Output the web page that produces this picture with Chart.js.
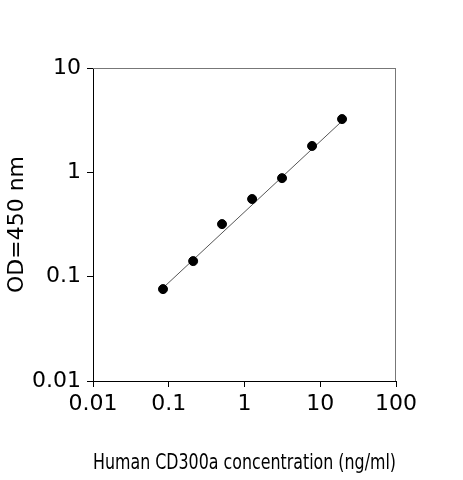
<!DOCTYPE html>
<html><head><meta charset="utf-8">
<script src="https://cdn.jsdelivr.net/npm/chart.js@4"></script>
<style>html,body{margin:0;background:#fff}#w{width:463px;height:480px}</style>
</head><body><div id="w"><canvas id="c"></canvas></div>
<script>
const concentrations=[0.084,0.21,0.505,1.26,3.13,7.8,19.4];
const odValues=[0.076,0.141,0.319,0.555,0.88,1.79,3.24];
const fitX=[0.084,19.4];
const fitY=[0.078,3.1];
const xTicks=[0.01,0.1,1,10,100];
const yTicks=[0.01,0.1,1,10];
const fam="'DejaVu Sans', sans-serif";
const fnt={family:fam,size:22};
const frame={id:'frame',afterDraw(ch){const a=ch.chartArea,c=ch.ctx;c.save();c.strokeStyle='#777';c.lineWidth=1;
c.beginPath();c.moveTo(a.left,a.top+0.5);c.lineTo(a.right,a.top+0.5);c.moveTo(a.right-0.5,a.top);c.lineTo(a.right-0.5,a.bottom);c.stroke();c.restore();}};
new Chart(document.getElementById('c'),{
type:'scatter',
data:{datasets:[
{data:concentrations.map((x,i)=>({x,y:odValues[i]})),backgroundColor:'#000',borderColor:'#000',pointRadius:4.5,showLine:false},
{data:fitX.map((x,i)=>({x,y:fitY[i]})),showLine:true,borderColor:'#555',borderWidth:1,pointRadius:0}
]},
options:{responsive:true,maintainAspectRatio:false,animation:false,
layout:{padding:{top:68,right:67,left:0,bottom:0}},
plugins:{legend:{display:false},tooltip:{enabled:false}},
scales:{
x:{type:'logarithmic',min:0.01,max:100,
afterBuildTicks:s=>{s.ticks=xTicks.map(v=>({value:v}))},
afterFit:s=>{s.height=99},
ticks:{callback:v=>String(v),color:'#000',font:fnt,maxRotation:0,autoSkip:false,padding:4},
grid:{display:true,drawOnChartArea:false,tickLength:6,color:'#000'},
border:{color:'#000'},
title:{display:true,text:'Human CD300a concentration (ng/ml)',color:'#000',font:{family:fam,size:21},padding:{top:24}}},
y:{type:'logarithmic',min:0.01,max:10,
afterBuildTicks:s=>{s.ticks=yTicks.map(v=>({value:v}))},
afterFit:s=>{s.width=93},
ticks:{callback:v=>String(v),color:'#000',font:fnt,autoSkip:false,padding:6},
grid:{display:true,drawOnChartArea:false,tickLength:6,color:'#000'},
border:{color:'#000'},
title:{display:true,text:'OD=450 nm',color:'#000',font:{family:fam,size:22},padding:{top:4,bottom:0}}}
}},
plugins:[frame]});
</script></body></html>
